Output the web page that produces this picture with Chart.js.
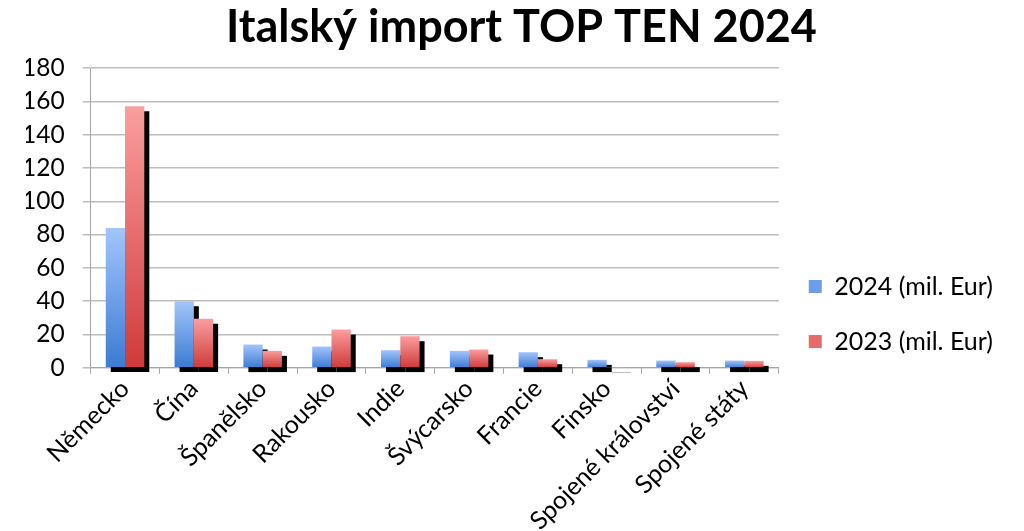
<!DOCTYPE html>
<html>
<head>
<meta charset="utf-8">
<script src="https://cdn.jsdelivr.net/npm/chart.js@4/dist/chart.umd.min.js"></script>
<style>
  html, body { margin: 0; padding: 0; background: #fff; }
  #wrap { width: 1024px; height: 531px; }
</style>
</head>
<body>
<div id="wrap"><canvas id="importChart"></canvas></div>
<script>
const countries = ['Německo', 'Čína', 'Španělsko', 'Rakousko', 'Indie', 'Švýcarsko', 'Francie', 'Finsko', 'Spojené království', 'Spojené státy'];
const import2024 = [84, 40, 14, 12.8, 10.6, 10.2, 9.4, 4.8, 4.4, 4.4];
const import2023 = [157, 29.5, 10.2, 23, 19, 11, 5.2, 0.3, 3.4, 4.2];
const seriesNames = ['2024 (mil. Eur)', '2023 (mil. Eur)'];
const yTicks = [0, 20, 40, 60, 80, 100, 120, 140, 160, 180];

const FONT = 'Lato, "Open Sans", sans-serif';

// vertical gradient over each bar, light at the top, darker at the base
function barGradient(light, dark) {
  return ctx => {
    const chart = ctx.chart;
    if (!chart.chartArea || ctx.type !== 'data') return dark;
    const y = chart.scales.y;
    const top = y.getPixelForValue(ctx.parsed.y);
    const base = y.getPixelForValue(0);
    if (!isFinite(top) || base - top < 1) return light;
    const g = chart.ctx.createLinearGradient(0, top, 0, base);
    g.addColorStop(0, light);
    g.addColorStop(1, dark);
    return g;
  };
}

// draw datasets in index order (2024 first, 2023 on top), each with a hard black drop shadow
const barShadow = {
  id: 'barShadow',
  beforeDatasetsDraw(chart) {
    const c = chart.ctx;
    chart.data.datasets.forEach((ds, i) => {
      const meta = chart.getDatasetMeta(i);
      if (!meta.visible) return;
      c.save();
      c.shadowColor = '#000';
      c.shadowOffsetX = 5;
      c.shadowOffsetY = 5;
      c.shadowBlur = 0;
      meta.controller.draw();
      c.restore();
    });
    return false;
  }
};

// the title sits a little right of the page centre in the original
const titleNudge = {
  id: 'titleNudge',
  afterLayout(chart) {
    if (chart.titleBlock) {
      chart.titleBlock.left += 7;
      chart.titleBlock.right += 7;
    }
  }
};

new Chart(document.getElementById('importChart'), {
  type: 'bar',
  data: {
    labels: countries,
    datasets: [
      { label: seriesNames[0], data: import2024, backgroundColor: barGradient('#a3c5fb', '#3a7bd3') },
      { label: seriesNames[1], data: import2023, backgroundColor: barGradient('#fb9e9e', '#cf3a3a') }
    ]
  },
  options: {
    responsive: true,
    maintainAspectRatio: false,
    animation: false,
    layout: { padding: { left: 26, right: 21, top: 0, bottom: 0 } },
    datasets: { bar: { categoryPercentage: 0.56, barPercentage: 1 } },
    plugins: {
      title: {
        display: true,
        text: 'Italský import TOP TEN 2024',
        color: '#000',
        font: { family: FONT, size: 45, weight: 'bold' },
        padding: { top: 0, bottom: 14 }
      },
      legend: {
        position: 'right',
        title: { display: true, text: ' ', font: { size: 1 }, padding: { top: 96, bottom: 0 } },
        labels: {
          color: '#000',
          font: { family: FONT, size: 25 },
          boxWidth: 13,
          boxHeight: 13,
          padding: 30,
          generateLabels: () => [
            { text: seriesNames[0], fillStyle: '#6a9ee8', strokeStyle: '#6a9ee8', fontColor: '#000', lineWidth: 0, datasetIndex: 0 },
            { text: seriesNames[1], fillStyle: '#e86b6b', strokeStyle: '#e86b6b', fontColor: '#000', lineWidth: 0, datasetIndex: 1 }
          ]
        }
      },
      tooltip: { enabled: false }
    },
    scales: {
      x: {
        grid: { display: true, drawOnChartArea: false, offset: true, color: '#a6a6a6', tickLength: 6 },
        border: { color: '#a6a6a6' },
        afterFit: axis => { axis.height -= 5; },
        ticks: {
          color: '#000',
          font: { family: FONT, size: 25 },
          maxRotation: 45,
          minRotation: 45,
          padding: 0
        }
      },
      y: {
        min: 0,
        max: 180,
        afterBuildTicks: axis => { axis.ticks = yTicks.map(v => ({ value: v })); },
        afterFit: axis => { axis.width -= 22; },
        grid: { color: '#bdbdbd', lineWidth: 1.5, tickLength: 8 },
        border: { color: '#a6a6a6' },
        ticks: {
          color: '#000',
          font: { family: FONT, size: 24.5 },
          padding: 18
        }
      }
    }
  },
  plugins: [barShadow, titleNudge]
});
</script>
</body>
</html>
